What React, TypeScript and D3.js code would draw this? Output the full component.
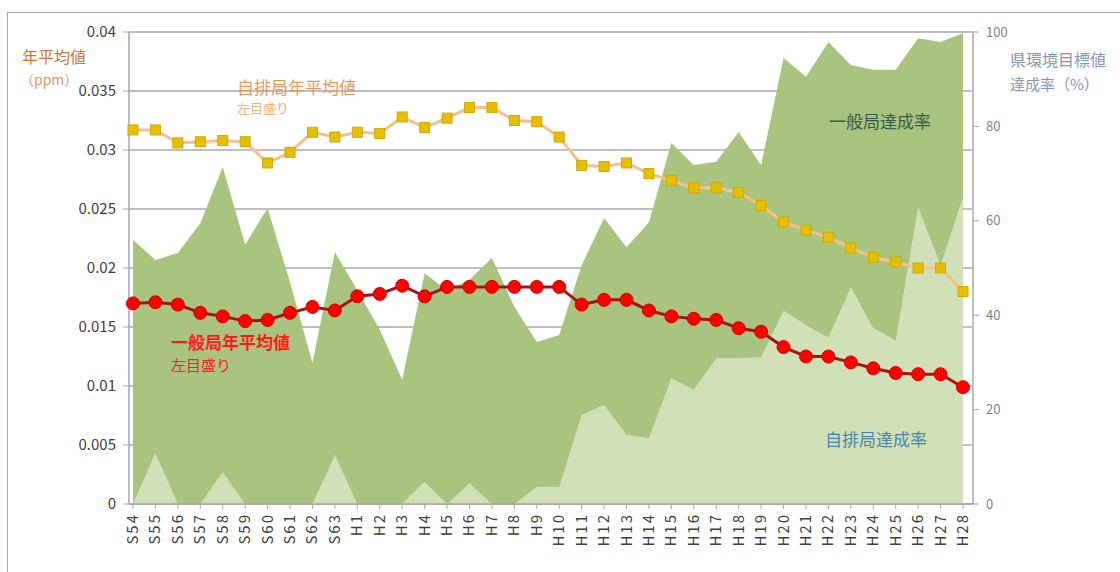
import React from 'react';
import * as d3 from 'd3';

const years = [
  'S54', 'S55', 'S56', 'S57', 'S58', 'S59', 'S60', 'S61', 'S62', 'S63',
  'H1', 'H2', 'H3', 'H4', 'H5', 'H6', 'H7', 'H8', 'H9', 'H10',
  'H11', 'H12', 'H13', 'H14', 'H15', 'H16', 'H17', 'H18', 'H19', 'H20',
  'H21', 'H22', 'H23', 'H24', 'H25', 'H26', 'H27', 'H28',
];

// 年平均値 (ppm), left axis
const jihaiAvg = [
  0.0317, 0.0317, 0.0306, 0.0307, 0.0308, 0.0307, 0.0289, 0.0298, 0.0315, 0.0311,
  0.0315, 0.0314, 0.0328, 0.0319, 0.0327, 0.0336, 0.0336, 0.0325, 0.0324, 0.0311,
  0.0287, 0.0286, 0.0289, 0.0280, 0.0274, 0.0268, 0.0268, 0.0264, 0.0253, 0.0239,
  0.0232, 0.0226, 0.0217, 0.0209, 0.0205, 0.0200, 0.0200, 0.0180,
];
const ippanAvg = [
  0.0170, 0.0171, 0.0169, 0.0162, 0.0159, 0.0155, 0.0156, 0.0162, 0.0167, 0.0164,
  0.0176, 0.0178, 0.0185, 0.0176, 0.0184, 0.0184, 0.0184, 0.0184, 0.0184, 0.0184,
  0.0169, 0.0173, 0.0173, 0.0164, 0.0159, 0.0157, 0.0156, 0.0149, 0.0146, 0.0133,
  0.0125, 0.0125, 0.0120, 0.0115, 0.0111, 0.0110, 0.0110, 0.0099,
];

// 達成率 (%), right axis
const ippanRate = [
  56, 51.7, 53.2, 59.5, 71.4, 54.9, 62.7, 47, 29.9, 53.4,
  45.3, 36.9, 26.3, 48.9, 45.3, 47.5, 52.1, 41.8, 34.3, 35.8,
  50.6, 60.6, 54.4, 59.7, 76.5, 71.8, 72.5, 78.8, 71.8, 94.5,
  90.5, 97.9, 93, 92, 92, 98.7, 97.9, 99.8,
];
const jihaiRate = [
  0, 10.8, 0, 0, 6.8, 0, 0, 0, 0, 10.4,
  0, 0, 0, 4.7, 0, 4.4, 0, 0, 3.6, 3.6,
  18.9, 21, 14.6, 14, 26.7, 24.2, 30.9, 30.9, 31.1, 41,
  37.9, 35.2, 46, 37.3, 34.7, 62.9, 50.6, 65,
];

const leftTicks = [0, 0.005, 0.01, 0.015, 0.02, 0.025, 0.03, 0.035, 0.04];
const rightTicks = [0, 20, 40, 60, 80, 100];

const W = 1120;
const H = 572;
const axisL = 129;
const axisR = 973;
const top = 32;
const bottom = 504;

const font = "'Noto Sans CJK JP', 'Liberation Sans', sans-serif";

export default function App() {
  const x = d3.scalePoint<string>().domain(years).range([133, 963]);
  const yL = d3.scaleLinear().domain([0, 0.04]).range([bottom, top]);
  const yR = d3.scaleLinear().domain([0, 100]).range([bottom, top]);

  const area = d3
    .area<number>()
    .x((_, i) => x(years[i]) as number)
    .y0(yR(0))
    .y1((d) => yR(d));
  const lineL = d3
    .line<number>()
    .x((_, i) => x(years[i]) as number)
    .y((d) => yL(d));

  return (
    <svg
      width={W}
      height={H}
      style={{ position: 'absolute', left: 0, top: 0, background: '#fff' }}
      fontFamily={font}
    >
      <rect x={7.5} y={12.5} width={W} height={H} fill="none" stroke="#a6a6a6" />

      {/* gridlines */}
      {leftTicks.map((t) => (
        <line key={t} x1={axisL} x2={axisR} y1={yL(t)} y2={yL(t)} stroke="#a8a8b0" strokeWidth={1.5} />
      ))}

      {/* areas */}
      <path d={area(ippanRate) || ''} fill="#a9c47f" />
      <path d={area(jihaiRate) || ''} fill="#d2e0b8" />

      {/* axes */}
      <line x1={axisL} x2={axisL} y1={top} y2={bottom} stroke="#a6a6a6" strokeWidth={1.5} />
      <line x1={axisR} x2={axisR} y1={top} y2={bottom} stroke="#bfbfbf" strokeWidth={2} />
      <line x1={axisL} x2={axisR} y1={bottom} y2={bottom} stroke="#a6a6a6" strokeWidth={1.5} />
      {leftTicks.map((t) => (
        <g key={t}>
          <line x1={axisL - 6} x2={axisL} y1={yL(t)} y2={yL(t)} stroke="#a6a6a6" />
          <text x={116} y={yL(t)} dy="0.35em" textAnchor="end" fontSize={15} fill="#404040">
            {t}
          </text>
        </g>
      ))}
      {rightTicks.map((t) => (
        <g key={t}>
          <line x1={axisR} x2={axisR + 6} y1={yR(t)} y2={yR(t)} stroke="#a6a6a6" />
          <text x={986} y={yR(t)} dy="0.35em" fontSize={13} fill="#7f7f7f">
            {t}
          </text>
        </g>
      ))}
      {years.map((c) => (
        <g key={c}>
          <line x1={x(c)} x2={x(c)} y1={bottom} y2={bottom + 5} stroke="#a6a6a6" />
          <text
            transform={`translate(${(x(c) as number) + 5},${bottom + 9}) rotate(-90)`}
            textAnchor="end"
            fontSize={15}
            letterSpacing={2}
            fill="#404040"
          >
            {c}
          </text>
        </g>
      ))}

      {/* 自排局 line */}
      <path d={lineL(jihaiAvg) || ''} fill="none" stroke="#f6c08c" strokeWidth={3} />
      {jihaiAvg.map((v, i) => (
        <rect
          key={i}
          x={(x(years[i]) as number) - 5}
          y={yL(v) - 5}
          width={10}
          height={10}
          fill="#e6bf00"
          stroke="#d0a800"
        />
      ))}

      {/* 一般局 line */}
      <path d={lineL(ippanAvg) || ''} fill="none" stroke="#a81414" strokeWidth={3} />
      {ippanAvg.map((v, i) => (
        <circle key={i} cx={x(years[i])} cy={yL(v)} r={6.5} fill="#ff0000" stroke="#d00000" />
      ))}

      {/* labels */}
      <text x={22} y={63} fontSize={16} fill="#c8783c">年平均値</text>
      <text x={20} y={85} fontSize={14} fill="#d89a6a">（ppm）</text>
      <text x={1010} y={66} fontSize={16} fill="#8497b0">県環境目標値</text>
      <text x={1010} y={90} fontSize={15} fill="#8497b0">達成率（%）</text>
      <text x={237} y={94} fontSize={17} fill="#e39a5a">自排局年平均値</text>
      <text x={237} y={113} fontSize={13} fill="#f2b27a">左目盛り</text>
      <text x={171} y={349} fontSize={17} fontWeight="bold" fill="#ff1a1a">一般局年平均値</text>
      <text x={171} y={371} fontSize={15} fill="#ff2020">左目盛り</text>
      <text x={829} y={128} fontSize={17} fill="#3a5a48">一般局達成率</text>
      <text x={825} y={446} fontSize={17} fill="#4d84ad">自排局達成率</text>
    </svg>
  );
}
